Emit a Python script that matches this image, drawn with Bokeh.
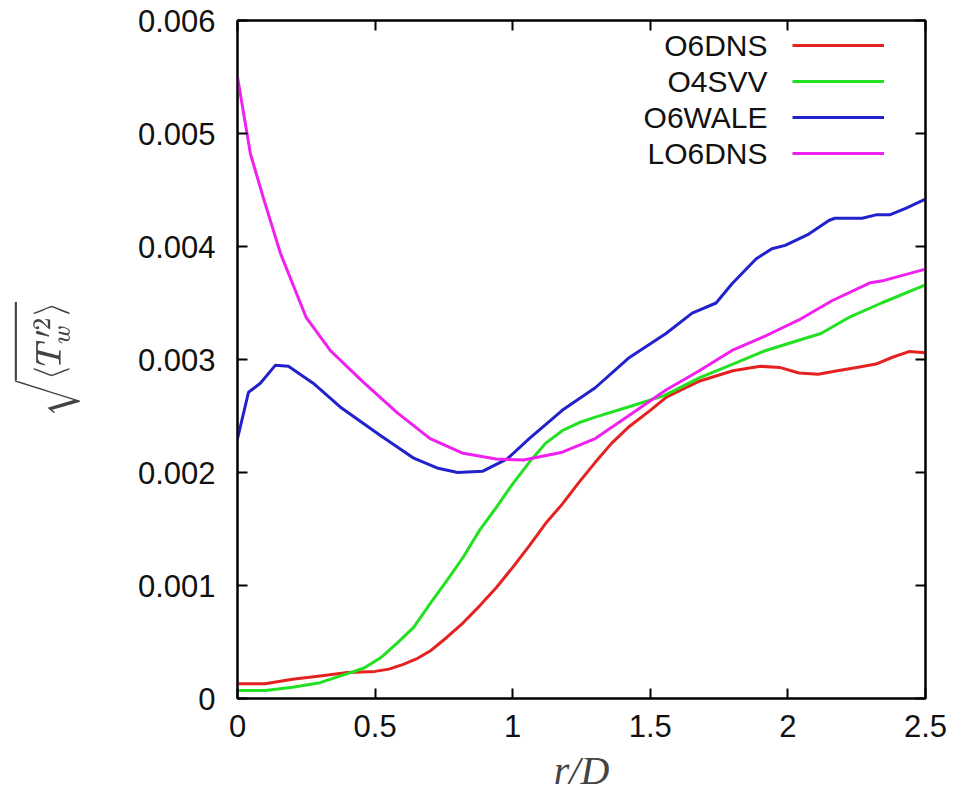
from bokeh.plotting import figure
from bokeh.models import Range1d, FixedTicker, LinearAxis, Legend, LegendItem, Label
from bokeh.embed import file_html
from bokeh.resources import INLINE

# ---- data ----
x_ticks = [0, 0.5, 1, 1.5, 2, 2.5]
x_tick_labels = ["0", "0.5", "1", "1.5", "2", "2.5"]
y_ticks = [0, 0.001, 0.002, 0.003, 0.004, 0.005, 0.006]
y_tick_labels = ["0", "0.001", "0.002", "0.003", "0.004", "0.005", "0.006"]

series_names = ["O6DNS", "O4SVV", "O6WALE", "LO6DNS"]
series_colors = ["#e52222", "#22e022", "#2222cc", "#f020f0"]

o6dns_x = [0, 0.1, 0.2, 0.3, 0.4, 0.5, 0.55, 0.6, 0.65, 0.7, 0.76, 0.82, 0.88, 0.94, 1.0, 1.06,
           1.12, 1.18, 1.24, 1.3, 1.36, 1.42, 1.5, 1.56, 1.68, 1.8, 1.9, 1.97, 2.04, 2.11, 2.18,
           2.25, 2.32, 2.38, 2.44, 2.5]
o6dns_y = [0.00013, 0.00013, 0.00017, 0.00020, 0.00023, 0.00024, 0.00026, 0.00030, 0.00035,
           0.00042, 0.00054, 0.00067, 0.00082, 0.00098, 0.00116, 0.00135, 0.00155, 0.00172,
           0.00191, 0.00209, 0.00226, 0.00240, 0.00255, 0.00267, 0.00281, 0.00290, 0.00294,
           0.00293, 0.00288, 0.00287, 0.00290, 0.00293, 0.00296, 0.00302, 0.00307, 0.00306]

o4svv_x = [0, 0.1, 0.2, 0.3, 0.4, 0.46, 0.52, 0.58, 0.64, 0.7, 0.76, 0.82, 0.88, 0.94, 1.0, 1.06,
           1.12, 1.18, 1.24, 1.3, 1.42, 1.55, 1.68, 1.8, 1.92, 2.04, 2.12, 2.22, 2.34, 2.5]
o4svv_y = [0.00007, 0.00007, 0.00010, 0.00014, 0.00022, 0.00027, 0.00036, 0.00049, 0.00063,
           0.00084, 0.00104, 0.00125, 0.00149, 0.00169, 0.00190, 0.00209, 0.00226, 0.00237,
           0.00244, 0.00249, 0.00258, 0.00268, 0.00284, 0.00296, 0.00308, 0.00317, 0.00323,
           0.00337, 0.00350, 0.00366]

o6wale_x = [0, 0.04, 0.083, 0.138, 0.185, 0.275, 0.373, 0.518, 0.638, 0.725, 0.8, 0.89, 0.98,
            1.06, 1.18, 1.3, 1.42, 1.557, 1.652, 1.739, 1.797, 1.884, 1.942, 1.99, 2.076, 2.149,
            2.17, 2.27, 2.32, 2.37, 2.43, 2.5]
o6wale_y = [0.00230, 0.00271, 0.00279, 0.00295, 0.00294, 0.00279, 0.00258, 0.00233, 0.00213,
            0.00204, 0.00200, 0.00201, 0.00212, 0.00230, 0.00255, 0.00275, 0.00301, 0.00323,
            0.00341, 0.00350, 0.00367, 0.00389, 0.00398, 0.00401, 0.00411, 0.00423, 0.00425,
            0.00425, 0.00428, 0.00428, 0.00434, 0.00442]

lo6dns_x = [0, 0.047, 0.094, 0.156, 0.25, 0.337, 0.457, 0.58, 0.70, 0.82, 0.94, 1.04, 1.18,
            1.3, 1.42, 1.557, 1.678, 1.797, 1.92, 2.04, 2.16, 2.3, 2.35, 2.5]
lo6dns_y = [0.00550, 0.00482, 0.00443, 0.00394, 0.00337, 0.00308, 0.00280, 0.00253, 0.00230,
            0.00217, 0.00212, 0.00211, 0.00218, 0.00230, 0.00250, 0.00273, 0.00290, 0.00308,
            0.00321, 0.00335, 0.00352, 0.00368, 0.00370, 0.00380]

xs = [o6dns_x, o4svv_x, o6wale_x, lo6dns_x]
ys = [o6dns_y, o4svv_y, o6wale_y, lo6dns_y]

# ---- figure ----
FONT = "Liberation Sans"
p = figure(width=974, height=810, output_backend="svg", toolbar_location=None,
           x_range=Range1d(0, 2.5), y_range=Range1d(0, 0.006),
           min_border_left=237, min_border_right=49, min_border_top=20, min_border_bottom=112)
p.background_fill_color = "white"
p.border_fill_color = "white"
p.xgrid.visible = False
p.ygrid.visible = False
p.outline_line_color = "black"
p.outline_line_width = 2

def style_axis(ax, ticks, labels, show_labels):
    ax.ticker = FixedTicker(ticks=ticks)
    if show_labels:
        ax.major_label_overrides = {t: l for t, l in zip(ticks, labels)}
        ax.major_label_text_font = FONT
        ax.major_label_text_font_size = "31px"
        ax.major_label_text_color = "#111111"
    else:
        ax.major_label_overrides = {t: "" for t in ticks}
        ax.major_label_text_font_size = "0px"
        ax.major_label_standoff = 0
    ax.major_tick_in = 10
    ax.major_tick_out = 0
    ax.minor_tick_line_color = None
    ax.major_tick_line_width = 2
    ax.axis_line_width = 2
    ax.axis_line_color = "black"

style_axis(p.xaxis[0], x_ticks, x_tick_labels, True)
style_axis(p.yaxis[0], y_ticks, y_tick_labels, True)
p.xaxis[0].major_label_standoff = 16
p.yaxis[0].major_label_standoff = 22

p.xaxis[0].axis_label = "r/D"
p.xaxis[0].axis_label_text_font = "Liberation Serif"
p.xaxis[0].axis_label_text_font_style = "italic"
p.xaxis[0].axis_label_text_font_size = "40px"
p.xaxis[0].axis_label_standoff = 8

p.yaxis[0].axis_label = r"$$\sqrt{\langle T'^2_w \rangle}$$"
p.yaxis[0].axis_label_text_font_size = "30px"
p.yaxis[0].axis_label_standoff = 55

top_axis = LinearAxis()
style_axis(top_axis, x_ticks, x_tick_labels, False)
p.add_layout(top_axis, "above")
right_axis = LinearAxis()
style_axis(right_axis, y_ticks, y_tick_labels, False)
p.add_layout(right_axis, "right")

renderers = []
for x, y, c in zip(xs, ys, series_colors):
    r = p.line(x, y, line_color=c, line_width=3)
    renderers.append(r)

legend = Legend(items=[LegendItem(label="", renderers=[r]) for r in renderers],
                location=(555, 527), glyph_width=92, glyph_height=36, spacing=0,
                padding=0, margin=0, label_standoff=0, label_width=0,
                label_text_font_size="1px", border_line_color=None,
                background_fill_alpha=0)
p.add_layout(legend, "center")

row_y = [653, 617, 581, 545]
for name, yy in zip(series_names, row_y):
    p.add_layout(Label(x=530, y=yy, x_units="screen", y_units="screen", text=name,
                       text_align="right", text_baseline="middle", text_font=FONT,
                       text_font_size="30px", text_color="#111111"))

open("out.html", "w").write(file_html(p, INLINE))
